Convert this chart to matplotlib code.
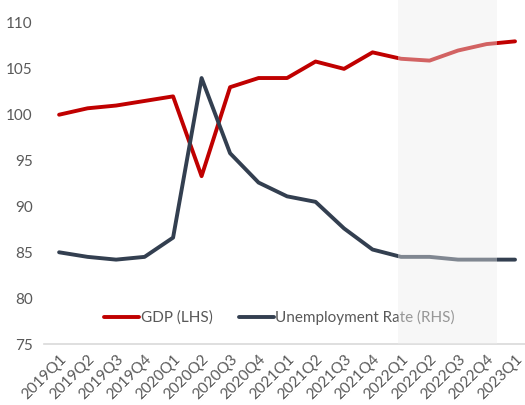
import numpy as np
import matplotlib
matplotlib.use("Agg")
import matplotlib.pyplot as plt

# data
quarters = ["2019Q1", "2019Q2", "2019Q3", "2019Q4",
            "2020Q1", "2020Q2", "2020Q3", "2020Q4",
            "2021Q1", "2021Q2", "2021Q3", "2021Q4",
            "2022Q1", "2022Q2", "2022Q3", "2022Q4",
            "2023Q1"]
gdp = [100.0, 100.7, 101.0, 101.5, 102.0, 93.3, 103.0, 104.0,
       104.0, 105.8, 105.0, 106.8, 106.1, 105.9, 107.0, 107.7, 108.0]
unemp = [85.0, 84.5, 84.2, 84.5, 86.6, 104.0, 95.8, 92.6,
         91.1, 90.5, 87.6, 85.3, 84.5, 84.5, 84.2, 84.2, 84.2]

red = "#C00000"
navy = "#333F50"
grey_txt = "#595959"

plt.rcParams["font.family"] = ["Lato", "DejaVu Sans"]

fig = plt.figure(figsize=(5.25, 4.05), dpi=100)
ax = fig.add_axes([44/525, 61/405, 481/525, 321/405])

x = np.arange(len(quarters))
ax.plot(x, gdp, color=red, lw=2.8, label="GDP (LHS)", solid_capstyle="round", zorder=3)
ax.plot(x, unemp, color=navy, lw=2.8, label="Unemployment Rate (RHS)", solid_capstyle="round", zorder=3)

# forecast shading drawn over the lines
ax.axvspan(11.88, 15.38, ymin=0, ymax=344/321, color="#EDEDED", alpha=0.42,
           lw=0, zorder=6, clip_on=False)

ax.set_xlim(-0.53, 16.35)
ax.set_ylim(75, 110)
ax.set_yticks(np.arange(75, 111, 5))
ax.set_xticks(x)
ax.set_xticklabels(quarters, rotation=45, ha="right", rotation_mode="anchor")
ax.tick_params(length=0, labelsize=11, colors=grey_txt)
ax.tick_params(axis="x", pad=6)
ax.tick_params(axis="y", pad=8)

for s in ["top", "right", "left"]:
    ax.spines[s].set_visible(False)
ax.spines["bottom"].set_color("#D9D9D9")
ax.spines["bottom"].set_linewidth(1.2)

leg = ax.legend(loc="center", bbox_to_anchor=(0.49, 0.083), ncol=2, frameon=False,
                fontsize=11, handlelength=2.3, handletextpad=0.1, columnspacing=1.7)
for t in leg.get_texts():
    t.set_color(grey_txt)
leg.set_zorder(5)

fig.savefig("out.png", dpi=100)
